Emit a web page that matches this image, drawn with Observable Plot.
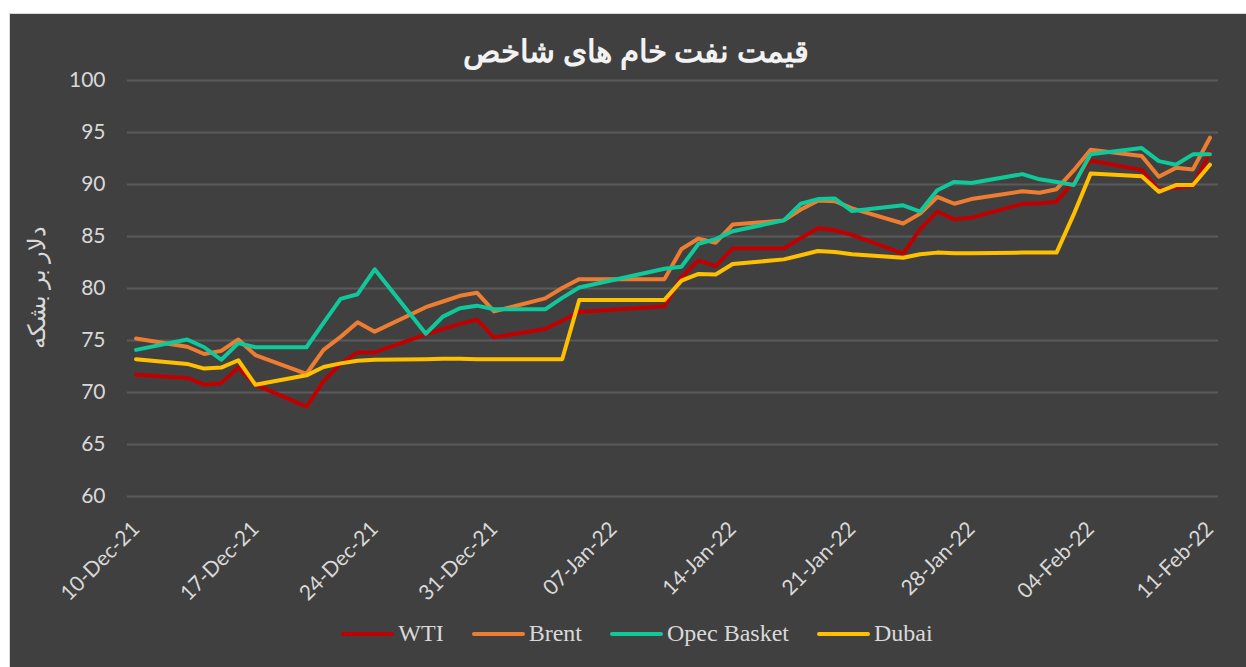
<!DOCTYPE html>
<html>
<head>
<meta charset="utf-8">
<script src="https://cdn.jsdelivr.net/npm/d3@7"></script>
<script src="https://cdn.jsdelivr.net/npm/@observablehq/plot@0.6"></script>
<style>
  html, body { margin: 0; padding: 0; background: #ffffff; overflow: hidden; width: 1246px; height: 667px; }
  #box { position: absolute; left: 9px; top: 13px; width: 1260px; height: 660px; background: #404040;
         border-top: 1px solid #d9d9d9; border-left: 1px solid #d9d9d9; box-sizing: border-box; overflow: hidden; }
  #title { position: absolute; left: 0; width: 1252px; top: 18px; line-height: 40px; text-align: center;
           font-family: "Times New Roman", "Liberation Serif", "DejaVu Serif", serif; font-weight: bold;
           font-size: 31px; color: #f2f2f2; direction: rtl; }
  #ylab { position: absolute; left: 27px; top: 273px; transform: translate(-50%, -50%) rotate(-90deg);
          white-space: nowrap; font-family: "Times New Roman", "Liberation Serif", serif; font-size: 24px;
          color: #d9d9d9; direction: rtl; }
  #chart { position: absolute; left: 0; top: 0; }
  #legend { position: absolute; left: 0; width: 1254px; top: 606px; display: flex; justify-content: center;
            align-items: center; gap: 28px; font-family: "Times New Roman", "Liberation Serif", serif;
            font-size: 24px; color: #d9d9d9; }
  .item { display: flex; align-items: center; }
  .sw { display: inline-block; width: 53px; height: 4px; border-radius: 2px; margin-right: 4px; }
</style>
</head>
<body>
<div id="box">
  <div id="title"></div>
  <div id="ylab"></div>
  <div id="chart"></div>
  <div id="legend"></div>
</div>
<script>
const titleText = "قیمت نفت خام های شاخص";
const yLabelText = "دلار بر بشکه";

const dates = [
  "2021-12-10","2021-12-13","2021-12-14","2021-12-15","2021-12-16","2021-12-17",
  "2021-12-20","2021-12-21","2021-12-22","2021-12-23","2021-12-24",
  "2021-12-27","2021-12-28","2021-12-29","2021-12-30","2021-12-31",
  "2022-01-03","2022-01-04","2022-01-05","2022-01-10","2022-01-11","2022-01-12","2022-01-13","2022-01-14",
  "2022-01-17","2022-01-18","2022-01-19","2022-01-20","2022-01-21",
  "2022-01-24","2022-01-25","2022-01-26","2022-01-27","2022-01-28",
  "2022-01-31","2022-02-01","2022-02-02","2022-02-03","2022-02-04",
  "2022-02-07","2022-02-08","2022-02-09","2022-02-10","2022-02-11"
];

const wti = [71.7,71.4,70.75,70.9,72.4,70.75, 68.65,71.1,72.75,73.85,73.85, 75.6,76.1,76.6,77.0,75.3,
  76.1,76.9,77.75,78.3,81.1,82.7,82.15,83.85, 83.85,84.85,85.8,85.6,85.15, 83.35,85.7,87.4,86.65,86.8,
  88.15,88.2,88.35,90.3,92.3, 91.4,89.5,89.7,89.85,93.1];

const brent = [75.2,74.4,73.7,74.0,75.1,73.6, 71.8,74.1,75.35,76.75,75.85, 78.2,78.75,79.3,79.6,77.8,
  79.05,80.05,80.9,80.9,83.8,84.8,84.4,86.15, 86.55,87.6,88.45,88.4,87.7, 86.25,87.2,88.8,88.15,88.6,
  89.35,89.2,89.55,91.35,93.35, 92.75,90.75,91.6,91.45,94.5];

const opec = [74.1,75.1,74.35,73.15,74.75,74.35, 74.35,76.7,79.0,79.45,81.85, 75.65,77.3,78.1,78.35,78.0,
  78.0,79.1,80.1,81.9,82.1,84.3,84.75,85.5, 86.55,88.15,88.6,88.65,87.45, 88.0,87.4,89.45,90.25,90.15,
  91.0,90.5,90.25,89.95,92.9, 93.5,92.25,91.9,92.9,92.9];

const dubai = [73.2,72.75,72.3,72.4,73.1,70.75, 71.65,72.45,72.8,73.05,73.15, 73.2,73.25,73.25,73.2,73.2,
  73.2,73.2,78.9,78.9,80.75,81.4,81.35,82.35, 82.8,83.2,83.6,83.5,83.3, 82.95,83.3,83.45,83.4,83.4,
  83.45,83.45,83.45,87.1,91.05, 90.8,89.3,89.95,89.95,91.9];

const seriesNames = ["WTI", "Brent", "Opec Basket", "Dubai"];
const seriesColors = ["#C00000", "#ED7D31", "#0FC99B", "#FFC000"];
const yTicks = [60, 65, 70, 75, 80, 85, 90, 95, 100];
const xTickDates = ["2021-12-10","2021-12-17","2021-12-24","2021-12-31","2022-01-07",
  "2022-01-14","2022-01-21","2022-01-28","2022-02-04","2022-02-11"];

const seriesValues = [wti, brent, opec, dubai];
const data = [];
seriesNames.forEach((name, si) => {
  dates.forEach((d, i) => data.push({series: name, date: new Date(d), value: seriesValues[si][i]}));
});

const half = 12 * 3600 * 1000;
const xDomain = [new Date(+new Date(dates[0]) - half), new Date(+new Date(dates[dates.length - 1]) + half)];
const fmt = d3.utcFormat("%d-%b-%y");

const plot = Plot.plot({
  width: 1236,
  height: 600,
  marginLeft: 117,
  marginRight: 28,
  marginTop: 66,
  marginBottom: 118,
  style: { background: "transparent", color: "#d9d9d9", fontFamily: "Lato, 'Open Sans', sans-serif", fontSize: "21px", overflow: "visible" },
  x: { type: "utc", domain: xDomain, ticks: xTickDates.map(d => new Date(d)), tickFormat: fmt,
       tickRotate: -45, tickSize: 0, tickPadding: 29, label: null },
  y: { domain: [60, 100], ticks: yTicks, tickSize: 0, tickPadding: 22, label: null },
  color: { domain: seriesNames, range: seriesColors },
  marks: [
    Plot.ruleY(yTicks, { stroke: "#5a5a5a", strokeWidth: 2 }),
    Plot.line(data, { x: "date", y: "value", z: "series", stroke: "series", strokeWidth: 4,
                      strokeLinejoin: "round", strokeLinecap: "round" })
  ]
});
document.getElementById("chart").appendChild(plot);

document.getElementById("title").textContent = titleText;
document.getElementById("ylab").textContent = yLabelText;

const legend = document.getElementById("legend");
seriesNames.forEach((name, i) => {
  const item = document.createElement("div");
  item.className = "item";
  const sw = document.createElement("span");
  sw.className = "sw";
  sw.style.background = seriesColors[i];
  const lab = document.createElement("span");
  lab.textContent = name;
  item.appendChild(sw);
  item.appendChild(lab);
  legend.appendChild(item);
});
</script>
</body>
</html>
